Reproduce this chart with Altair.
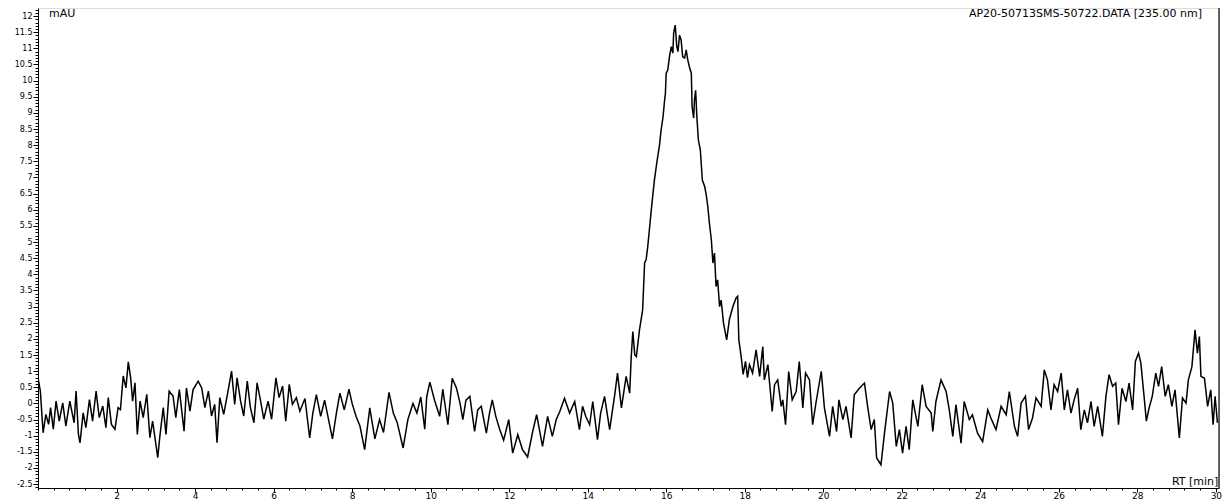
import altair as alt
import pandas as pd

# Retention time (min) and absorbance (mAU)
rt = [
    0.00, 0.06, 0.13, 0.20, 0.27, 0.32, 0.39, 0.46, 0.54, 0.63, 0.71, 0.81, 0.92, 0.97,
    1.03, 1.07, 1.15, 1.22, 1.31, 1.39, 1.48, 1.56, 1.65, 1.73, 1.79, 1.87, 1.96,
    2.04, 2.10, 2.17, 2.24, 2.30, 2.36, 2.41, 2.47, 2.53, 2.60, 2.68, 2.77, 2.85, 2.92, 2.99,
    3.05, 3.10, 3.19, 3.26, 3.34, 3.44, 3.51, 3.60, 3.72, 3.78, 3.87, 3.95,
    4.08, 4.17, 4.25, 4.34, 4.42, 4.50, 4.56, 4.63, 4.73, 4.84, 4.93,
    5.01, 5.07, 5.16, 5.24, 5.33, 5.41, 5.50, 5.58, 5.67, 5.75, 5.86, 5.95,
    6.06, 6.14, 6.23, 6.31, 6.40, 6.48, 6.58, 6.67, 6.80, 6.92,
    7.00, 7.09, 7.20, 7.30, 7.50, 7.60, 7.69, 7.80, 7.92,
    8.00, 8.10, 8.20, 8.32, 8.45, 8.58, 8.70, 8.80, 8.94,
    9.05, 9.15, 9.30, 9.42, 9.55, 9.65, 9.75, 9.85, 9.90, 9.98,
    10.10, 10.23, 10.31, 10.44, 10.55, 10.66, 10.75, 10.82, 10.90,
    11.00, 11.12, 11.20, 11.29, 11.42, 11.50, 11.57, 11.66, 11.76, 11.86, 11.99,
    12.09, 12.22, 12.34, 12.47, 12.60, 12.70, 12.85, 12.98,
    13.10, 13.20, 13.29, 13.41, 13.54, 13.67, 13.79, 13.87, 13.95,
    14.05, 14.13, 14.25, 14.33, 14.43, 14.56, 14.69, 14.76, 14.86, 14.98,
    15.07, 15.11, 15.15, 15.20, 15.24, 15.32, 15.40, 15.45, 15.49, 15.53, 15.58, 15.62,
    15.66, 15.70, 15.76, 15.83, 15.87, 15.92, 15.96, 15.98,
    16.00, 16.04, 16.09, 16.13, 16.17, 16.19, 16.23, 16.27, 16.30, 16.34, 16.38, 16.42,
    16.47, 16.51, 16.55, 16.59, 16.64, 16.66, 16.70, 16.72, 16.75, 16.78, 16.82, 16.87,
    16.92, 16.98, 17.02, 17.06, 17.10, 17.15, 17.19, 17.23, 17.27, 17.31, 17.36, 17.40,
    17.46, 17.54, 17.61, 17.70, 17.78, 17.82, 17.85, 17.91, 17.96,
    18.02, 18.07, 18.12, 18.20, 18.29, 18.38, 18.46, 18.50, 18.59, 18.63, 18.70, 18.76,
    18.84, 18.93, 18.97, 19.04, 19.12, 19.21, 19.31, 19.39, 19.48, 19.55, 19.65, 19.73,
    19.82, 19.95, 20.03, 20.16, 20.24, 20.34, 20.40, 20.50, 20.58, 20.71, 20.79, 20.92,
    21.05, 21.13, 21.22, 21.30, 21.36, 21.47, 21.56, 21.69, 21.77, 21.86, 21.94,
    22.02, 22.11, 22.19, 22.28, 22.41, 22.52, 22.62, 22.75, 22.79, 22.87,
    23.00, 23.13, 23.21, 23.30, 23.38, 23.51, 23.59, 23.72, 23.80, 23.93,
    24.06, 24.19, 24.27, 24.40, 24.53, 24.66, 24.74, 24.87, 24.95,
    25.04, 25.15, 25.23, 25.33, 25.42, 25.55, 25.63, 25.71, 25.80, 25.88, 25.97,
    26.06, 26.14, 26.22, 26.31, 26.39, 26.48, 26.56, 26.65, 26.73, 26.82, 26.90, 26.99,
    27.11, 27.20, 27.28, 27.37, 27.45, 27.52, 27.61, 27.71, 27.79, 27.88, 27.95,
    28.03, 28.09, 28.18, 28.23, 28.30, 28.38, 28.47, 28.54, 28.62, 28.71, 28.79, 28.88, 28.96,
    29.07, 29.15, 29.24, 29.30, 29.39, 29.47, 29.53, 29.58, 29.62, 29.71, 29.79, 29.87,
    29.93, 29.98, 30.04,
]
mau = [
    0.79, 0.38, -0.91, -0.34, -0.65, -0.13, -0.80, 0.07, -0.55, 0.02, -0.70, 0.07, -0.60, 0.38,
    -0.96, -1.22, -0.29, -0.75, 0.12, -0.55, 0.38, -0.44, -0.08, -0.75, 0.18, -0.65, -0.80,
    -0.13, -0.19, 0.85, 0.48, 1.29, 0.79, 0.07, 0.64, -0.96, 0.07, -0.44, 0.28, -1.06, -0.55, -1.16,
    -1.68, -1.06, -0.13, -0.96, 0.38, 0.23, -0.44, 0.43, -0.86, 0.48, -0.24, 0.43,
    0.69, 0.48, -0.13, 0.38, -0.39, -0.03, -1.22, 0.18, -0.34, 0.38, 1.00,
    -0.03, 0.79, 0.07, -0.39, 0.69, -0.13, -0.60, 0.64, 0.07, -0.49, 0.07, -0.49,
    0.79, 0.18, 0.54, -0.55, 0.59, -0.03, 0.18, -0.24, 0.15, -1.07,
    -0.30, 0.27, -0.40, 0.10, -1.10, -0.30, 0.32, -0.20, 0.44,
    0.00, -0.40, -0.70, -1.43, -0.14, -1.10, -0.50, -0.90, 0.34,
    -0.30, -0.60, -1.38, -0.50, 0.00, -0.30, 0.20, -0.80, 0.20, 0.66,
    0.10, -0.40, 0.44, -0.66, 0.78, 0.47, 0.00, -0.50, 0.10,
    0.22, -0.87, -0.20, -0.09, -0.92, -0.30, 0.11, -0.40, -0.81, -1.14, -0.50,
    -1.54, -0.97, -1.43, -1.66, -0.87, -0.35, -1.33, -0.40,
    -1.02, -0.50, -0.25, 0.16, -0.30, 0.06, -0.81, -0.09, -0.40,
    -0.66, 0.06, -1.12, -0.30, 0.22, -0.81, 0.27, 0.94, -0.14, 0.84,
    0.32, 1.45, 2.23, 1.50, 1.45, 2.28, 2.90, 4.35, 4.46, 4.86, 5.48, 5.99,
    6.46, 6.92, 7.45, 8.00, 8.47, 8.88, 9.40, 9.60,
    10.23, 10.33, 10.80, 11.05, 10.85, 11.47, 11.72, 11.05, 10.90, 11.41, 11.26, 10.74,
    10.70, 10.95, 10.64, 10.43, 10.23, 9.19, 8.84, 9.40, 9.70, 8.90, 8.16, 7.85,
    6.92, 6.72, 6.46, 6.10, 5.59, 5.07, 4.35, 4.66, 3.62, 3.83, 3.00, 3.20,
    2.49, 1.97, 2.60, 3.00, 3.27, 3.32, 1.97, 1.45, 0.90,
    1.30, 0.80, 1.20, 0.94, 1.66, 0.84, 1.76, 0.73, 1.20, 0.68, -0.25, 0.58,
    0.73, -0.09, 0.11, -0.66, 0.99, 0.11, 0.37, 1.30, -0.14, 0.94, 0.73, -0.66,
    0.06, 0.99, -0.14, -1.02, -0.09, -0.87, 0.11, -0.50, -0.09, -1.07, 0.27, 0.47,
    0.63, -0.09, -0.81, -0.50, -1.69, -1.90, -0.92, 0.37, 0.01, -1.33, -0.81,
    -1.54, -0.71, -1.43, 0.11, -0.71, 0.58, -0.09, -0.30, -0.87, 0.06,
    0.73, 0.37, -0.20, -1.02, -0.04, -1.23, 0.06, -0.50, -0.35, -0.92,
    -1.18, -0.20, -0.45, -0.81, -0.09, -0.35, 0.37, -0.71, -1.02,
    0.01, 0.22, -0.81, -0.45, 0.17, -0.09, 1.04, 0.73, -0.20, 0.58, 0.37,
    0.94, -0.20, 0.42, -0.30, 0.11, 0.47, -0.81, -0.20, -0.60, 0.06, -0.71, -0.09,
    -1.02, 0.22, 0.89, 0.53, 0.63, -0.66, 0.47, 0.06, 0.63, -0.20, 1.30,
    1.56, 1.25, 0.11, -0.55, -0.14, 0.22, 0.94, 0.53, 1.14, 0.22, 0.58, -0.09, 0.42,
    -1.07, 0.17, 0.01, 0.73, 1.14, 2.28, 1.56, 2.07, 0.84, 0.78, -0.09, 0.42,
    -0.66, 0.22, -0.60,
]

# Axis ticks and labels
x_major = [2, 4, 6, 8, 10, 12, 14, 16, 18, 20, 22, 24, 26, 28, 30]
x_minor = [round(0.4 * i, 1) for i in range(0, 76)]
y_major = [-2.5 + 0.5 * i for i in range(30)]
y_minor = [round(-2.6 + 0.1 * i, 1) for i in range(149)]

unit_label = ["mAU"]
file_label = ["AP20-50713SMS-50722.DATA [235.00 nm]"]
x_label = ["RT [min]"]

W, H = 1181, 480
FONT = "DejaVu Sans"

df = pd.DataFrame({"rt": rt, "mau": mau})
xs = alt.Scale(domain=[0, 30.08], nice=False, zero=False)
ys = alt.Scale(domain=[-2.62, 12.25], nice=False, zero=False)

common_axis = dict(grid=False, title=None, labelFont=FONT, labelColor="black",
                   tickColor="black", domainColor="black", labelFlush=False,
                   labelOverlap=False, labelExpr="datum.value + ''")

line = alt.Chart(df).mark_line(color="black", strokeWidth=1.5, clip=True).encode(
    x=alt.X("rt:Q", scale=xs, axis=alt.Axis(orient="bottom", values=x_major, tickSize=4,
                                            labelFontSize=9, labelPadding=-1, **common_axis)),
    y=alt.Y("mau:Q", scale=ys, axis=alt.Axis(orient="left", values=y_major, tickSize=5,
                                             labelFontSize=8, labelPadding=1, **common_axis)),
)

minor = alt.Chart(df).mark_line(strokeOpacity=0).encode(
    x=alt.X("rt:Q", scale=xs, axis=alt.Axis(orient="bottom", values=x_minor, tickSize=2,
                                            labels=False, domain=False, grid=False, title=None,
                                            tickColor="black")),
    y=alt.Y("mau:Q", scale=ys, axis=alt.Axis(orient="left", values=y_minor, tickSize=3,
                                             labels=False, domain=False, grid=False, title=None,
                                             tickColor="black")),
)

right_border = alt.Chart(pd.DataFrame({"a": [0]})).mark_rule(color="black", strokeWidth=1.2).encode(
    x=alt.value(W), y=alt.value(0), y2=alt.value(H)
)

t_unit = alt.Chart(pd.DataFrame({"t": unit_label})).mark_text(
    font=FONT, fontSize=11, align="left", baseline="alphabetic", color="black"
).encode(x=alt.value(11), y=alt.value(9), text="t:N")

t_file = alt.Chart(pd.DataFrame({"t": file_label})).mark_text(
    font=FONT, fontSize=11, align="right", baseline="alphabetic", color="black"
).encode(x=alt.value(1164), y=alt.value(9), text="t:N")

t_x = alt.Chart(pd.DataFrame({"t": x_label})).mark_text(
    font=FONT, fontSize=11, align="left", baseline="alphabetic", color="black"
).encode(x=alt.value(1134), y=alt.value(477), text="t:N")

chart = alt.layer(minor, line, right_border, t_unit, t_file, t_x).resolve_axis(
    x="independent", y="independent"
).properties(
    width=W, height=H,
    autosize=alt.AutoSizeParams(type="none"),
    padding={"left": 30, "top": 0, "right": 3, "bottom": 12},
).configure_view(stroke="#9a9a9a", strokeWidth=1.2).configure(background="white")

chart.save("out.html", embed_options={"renderer": "svg", "actions": False})
